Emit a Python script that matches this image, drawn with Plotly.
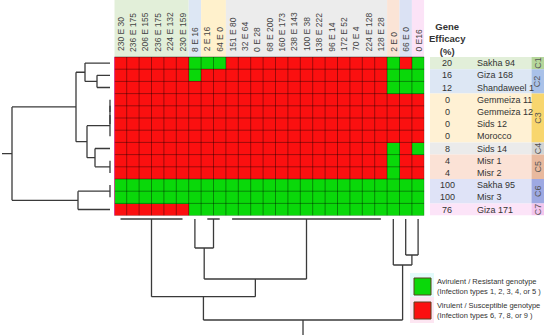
import plotly.graph_objects as go

# ---------------- data ----------------
strains = ["Sakha 94", "Giza 168", "Shandaweel 1", "Gemmeiza 11", "Gemmeiza 12",
           "Sids 12", "Morocco", "Sids 14", "Misr 1", "Misr 2", "Sakha 95",
           "Misr 3", "Giza 171"]
efficacy = [20, 16, 12, 0, 0, 0, 0, 8, 4, 4, 100, 100, 76]
clusters = ["C1", "C2", "C2", "C3", "C3", "C3", "C3", "C4", "C5", "C5", "C6", "C6", "C7"]

races = ["230 E 30", "236 E 175", "206 E 155", "236 E 175", "224 E 132", "230 E 159",
         "8 E 16", "2 E 16", "64 E 0", "151 E 80", "32 E 64", "0 E 28", "68 E 200",
         "160 E 173", "238 E 143", "100 E 38", "138 E 222", "96 E 14", "172 E 52",
         "70 E 4", "224 E 128", "128 E 28", "2 E 0", "66 E 0", "0 E16"]
race_groups = [0, 0, 0, 0, 0, 0, 1, 2, 2, 3, 3, 3, 3, 3, 3, 3, 3, 3, 3, 3, 3, 3, 4, 5, 6]

# 1 = avirulent / resistant (green), 0 = virulent / susceptible (red)
resistance = [
    [0, 0, 0, 0, 0, 0, 1, 1, 1, 0, 0, 0, 0, 0, 0, 0, 0, 0, 0, 0, 0, 0, 1, 0, 1],
    [0, 0, 0, 0, 0, 0, 1, 0, 0, 0, 0, 0, 0, 0, 0, 0, 0, 0, 0, 0, 0, 0, 1, 1, 1],
    [0, 0, 0, 0, 0, 0, 0, 0, 0, 0, 0, 0, 0, 0, 0, 0, 0, 0, 0, 0, 0, 0, 1, 1, 1],
    [0, 0, 0, 0, 0, 0, 0, 0, 0, 0, 0, 0, 0, 0, 0, 0, 0, 0, 0, 0, 0, 0, 0, 0, 0],
    [0, 0, 0, 0, 0, 0, 0, 0, 0, 0, 0, 0, 0, 0, 0, 0, 0, 0, 0, 0, 0, 0, 0, 0, 0],
    [0, 0, 0, 0, 0, 0, 0, 0, 0, 0, 0, 0, 0, 0, 0, 0, 0, 0, 0, 0, 0, 0, 0, 0, 0],
    [0, 0, 0, 0, 0, 0, 0, 0, 0, 0, 0, 0, 0, 0, 0, 0, 0, 0, 0, 0, 0, 0, 0, 0, 0],
    [0, 0, 0, 0, 0, 0, 0, 0, 0, 0, 0, 0, 0, 0, 0, 0, 0, 0, 0, 0, 0, 0, 1, 0, 1],
    [0, 0, 0, 0, 0, 0, 0, 0, 0, 0, 0, 0, 0, 0, 0, 0, 0, 0, 0, 0, 0, 0, 1, 0, 0],
    [0, 0, 0, 0, 0, 0, 0, 0, 0, 0, 0, 0, 0, 0, 0, 0, 0, 0, 0, 0, 0, 0, 1, 0, 0],
    [1, 1, 1, 1, 1, 1, 1, 1, 1, 1, 1, 1, 1, 1, 1, 1, 1, 1, 1, 1, 1, 1, 1, 1, 1],
    [1, 1, 1, 1, 1, 1, 1, 1, 1, 1, 1, 1, 1, 1, 1, 1, 1, 1, 1, 1, 1, 1, 1, 1, 1],
    [0, 0, 0, 0, 0, 0, 1, 1, 1, 1, 1, 1, 1, 1, 1, 1, 1, 1, 1, 1, 1, 1, 1, 1, 1],
]

# dendrograms: (merge height, [children]); int = leaf index
row_tree = (98, [(34, [(25, [0, (13, [1, 2])]),
                       (23, [(0, [(0, [(0, [3, 4]), 5]), 6]),
                             (15, [7, (0, [8, 9])])])]),
                 (32, [(0, [10, 11]), 12])])
col_tree = (101, [(77.7, [(0, [0, 1, 2, 3, 4, 5]),
                          (60, [(29, [6, (0, [7, 8])]),
                                (0, [9, 10, 11, 12, 13, 14, 15, 16, 17, 18, 19, 20, 21])])]),
                  (46, [22, (36, [23, 24])])])

legend_items = [("Avirulent / Resistant genotype", "(Infection types 1, 2, 3, 4, or 5 )"),
                ("Virulent / Susceptible genotype", "(Infection types 6, 7, 8, or 9 )")]

# ---------------- styles ----------------
W, H = 550, 335
hm_left, col_w, hm_top, row_h = 114.3, 12.4, 57.0, 12.2
n_rows, n_cols = len(strains), len(races)
RED, GREEN = "#fb1010", "#0ad80a"
FONT = "Liberation Sans, Arial, sans-serif"
TXT = "#333333"
DEN = "#3a3a3a"

hdr_bg = ["#e2efd9", "#dde7f4", "#fff1cc", "#ececec", "#fbe4d6", "#dbe2f4", "#fce3f7"]
row_bg = {"C1": "#e2efd9", "C2": "#dde7f4", "C3": "#fff1d4", "C4": "#ebebeb",
          "C5": "#fbe2d6", "C6": "#dfe3f7", "C7": "#fce4f8"}
strip_bg = {"C1": "#b5d69b", "C2": "#a9c1e8", "C3": "#f8d66e", "C4": "#d3d3d3",
            "C5": "#e8b99e", "C6": "#9ea9e2", "C7": "#f3c6ee"}


def px2fx(p):
    return p / W


def px2fy(p):
    return 1 - p / H


hm_bottom = hm_top + n_rows * row_h
x_dom = [px2fx(hm_left), px2fx(hm_left + n_cols * col_w)]
y_dom = [px2fy(hm_bottom), 1.0]
y_range = [n_rows - 0.5, -0.5 - hm_top / row_h]


def tree_segments(node):
    if isinstance(node, int):
        return float(node), 0.0, []
    h, kids = node
    segs, centers = [], []
    for k in kids:
        c, kh, s = tree_segments(k)
        segs += s
        segs.append((c, kh, c, h))
        centers.append(c)
    segs.append((min(centers), h, max(centers), h))
    return sum(centers) / len(centers), h, segs


fig = go.Figure()

# heatmap
fig.add_trace(go.Heatmap(z=resistance, x=list(range(n_cols)), y=list(range(n_rows)),
                         colorscale=[[0, RED], [1, GREEN]], zmin=0, zmax=1,
                         showscale=False, hoverinfo="skip", xaxis="x", yaxis="y"))

# cell grid
gx, gy = [], []
for i in range(n_cols + 1):
    gx += [i - 0.5, i - 0.5, None]
    gy += [-0.5, n_rows - 0.5, None]
for j in range(n_rows + 1):
    gx += [-0.5, n_cols - 0.5, None]
    gy += [j - 0.5, j - 0.5, None]
fig.add_trace(go.Scatter(x=gx, y=gy, mode="lines", line=dict(color="rgba(0,0,0,0.38)", width=1),
                         hoverinfo="skip", showlegend=False, xaxis="x", yaxis="y"))
# magenta left border
fig.add_trace(go.Scatter(x=[-0.5, -0.5], y=[-0.5, n_rows - 0.5], mode="lines",
                         line=dict(color="#e2309a", width=1.5), hoverinfo="skip",
                         showlegend=False, xaxis="x", yaxis="y"))

# row dendrogram
rc, rh, rsegs = tree_segments(row_tree)
rsegs.append((rc, rh, rc, rh + 10))
dx, dy = [], []
for (p0, h0, p1, h1) in rsegs:
    dx += [h0, h1, None]
    dy += [p0, p1, None]
fig.add_trace(go.Scatter(x=dx, y=dy, mode="lines", line=dict(color=DEN, width=1.3),
                         hoverinfo="skip", showlegend=False, xaxis="x2", yaxis="y2"))

# column dendrogram
cc, ch, csegs = tree_segments(col_tree)
csegs.append((cc, ch, cc, ch + 30))
dx, dy = [], []
for (p0, h0, p1, h1) in csegs:
    dx += [p0, p1, None]
    dy += [h0, h1, None]
fig.add_trace(go.Scatter(x=dx, y=dy, mode="lines", line=dict(color=DEN, width=1.3),
                         hoverinfo="skip", showlegend=False, xaxis="x", yaxis="y3"))

shapes, annotations = [], []

# column header backgrounds
hdr_frac = (n_rows * row_h) / hm_bottom
g_start = 0
for i in range(1, n_cols + 1):
    if i == n_cols or race_groups[i] != race_groups[g_start]:
        shapes.append(dict(type="rect", xref="x", yref="y domain", x0=g_start - 0.5, x1=i - 0.5,
                           y0=hdr_frac, y1=1,
                           fillcolor=hdr_bg[race_groups[g_start]], line=dict(width=0), layer="below"))
        g_start = i
for i, r in enumerate(races):
    annotations.append(dict(x=i, y=-0.5 - 3.5 / row_h, xref="x", yref="y", text=r, textangle=-90,
                            showarrow=False, xanchor="center", yanchor="bottom",
                            font=dict(family=FONT, size=8.5, color="#444444")))

# row label table
tbl_x0, tbl_x1, strip_x1 = 430, 531.5, 544
g_start = 0
for j in range(1, n_rows + 1):
    if j == n_rows or clusters[j] != clusters[g_start]:
        c = clusters[g_start]
        shapes.append(dict(type="rect", xref="paper", yref="y", x0=px2fx(tbl_x0), x1=px2fx(tbl_x1),
                           y0=g_start - 0.5, y1=j - 0.5, fillcolor=row_bg[c], line=dict(width=0),
                           layer="below"))
        shapes.append(dict(type="rect", xref="paper", yref="y", x0=px2fx(tbl_x1), x1=px2fx(strip_x1),
                           y0=g_start - 0.5, y1=j - 0.5, fillcolor=strip_bg[c], line=dict(width=0),
                           layer="below"))
        annotations.append(dict(x=px2fx((tbl_x1 + strip_x1) / 2), y=(g_start + j - 1) / 2,
                                xref="paper", yref="y", text=c, textangle=-90, showarrow=False,
                                xanchor="center", yanchor="middle",
                                font=dict(family=FONT, size=9, color="#555555")))
        g_start = j
for j, (s, e) in enumerate(zip(strains, efficacy)):
    annotations.append(dict(x=px2fx(447), y=j, xref="paper", yref="y", text=str(e), showarrow=False,
                            xanchor="center", yanchor="middle",
                            font=dict(family=FONT, size=9, color=TXT)))
    annotations.append(dict(x=px2fx(475), y=j, xref="paper", yref="y", text=s, showarrow=False,
                            xanchor="left", yanchor="middle",
                            font=dict(family=FONT, size=9, color=TXT)))
annotations.append(dict(x=px2fx(447), y=px2fy(39), xref="paper", yref="paper",
                        text="<b>Gene<br>Efficacy<br>(%)</b>", showarrow=False,
                        xanchor="center", yanchor="middle",
                        font=dict(family=FONT, size=9.5, color=TXT)))

# legend
leg_cols = [GREEN, RED]
leg_bgs = ["#e3fbfb", "#fde6f2"]
for k, ((l1, l2), col) in enumerate(zip(legend_items, leg_cols)):
    top = 278 + k * 24
    shapes.append(dict(type="rect", xref="paper", yref="paper", x0=px2fx(410), x1=px2fx(434),
                       y0=px2fy(top - 5), y1=px2fy(top + 21), fillcolor=leg_bgs[k],
                       line=dict(width=0), layer="below"))
    shapes.append(dict(type="rect", xref="paper", yref="paper", x0=px2fx(414), x1=px2fx(431),
                       y0=px2fy(top), y1=px2fy(top + 17), fillcolor=col,
                       line=dict(color="#5a4020", width=1)))
    annotations.append(dict(x=px2fx(435), y=px2fy(top + 8), xref="paper", yref="paper",
                            text=l1 + "<br>" + l2, showarrow=False, xanchor="left",
                            yanchor="middle", align="left",
                            font=dict(family=FONT, size=7.5, color=TXT)))

ax_off = dict(visible=False, showgrid=False, zeroline=False, fixedrange=True)
fig.update_layout(
    width=W, height=H, margin=dict(l=0, r=0, t=0, b=0),
    paper_bgcolor="white", plot_bgcolor="rgba(0,0,0,0)", showlegend=False,
    xaxis=dict(domain=x_dom, range=[-0.5, n_cols - 0.5], anchor="y", **ax_off),
    yaxis=dict(domain=y_dom, range=y_range, anchor="x", **ax_off),
    xaxis2=dict(domain=[0, px2fx(hm_left)], range=[110, 110 - hm_left], anchor="y2", **ax_off),
    yaxis2=dict(domain=y_dom, range=y_range, anchor="x2", **ax_off),
    yaxis3=dict(domain=[0, y_dom[0]], range=[H - 219, -(219 - hm_bottom)],
                anchor="x", **ax_off),
    shapes=shapes, annotations=annotations,
)
fig.write_html("out.html", config={"displayModeBar": False, "staticPlot": True},
               post_script="document.body.style.margin='0px';document.body.style.padding='0px';")
